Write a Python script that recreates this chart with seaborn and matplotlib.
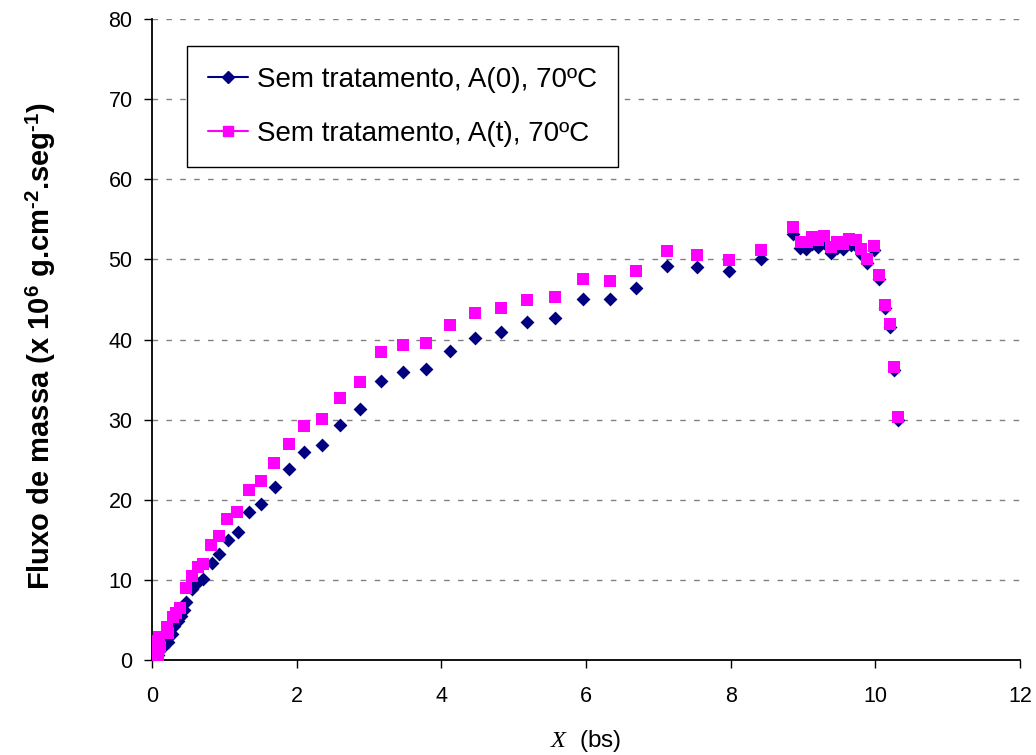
import matplotlib
matplotlib.use("Agg")
import matplotlib.pyplot as plt
import seaborn as sns
import pandas as pd
from matplotlib.lines import Line2D

# Data: Sem tratamento, A(0), 70ºC (navy diamonds)
x_a0 = [0.05, 0.08, 0.10, 0.15, 0.22, 0.27, 0.30, 0.36, 0.40, 0.44, 0.47,
        0.55, 0.62, 0.71, 0.83, 0.93, 1.05, 1.19, 1.34, 1.51, 1.70, 1.89,
        2.10, 2.35, 2.60, 2.88, 3.17, 3.47, 3.79, 4.12, 4.47, 4.83, 5.18,
        5.57, 5.96, 6.33, 6.69, 7.12, 7.53, 7.98, 8.42, 8.86, 8.96, 9.04,
        9.12, 9.21, 9.29, 9.39, 9.47, 9.55, 9.66, 9.73, 9.82, 9.89, 9.98,
        10.05, 10.13, 10.20, 10.26, 10.31]
y_a0 = [0.2, 0.6, 1.2, 1.6, 2.2, 3.3, 4.3, 4.9, 5.5, 6.3, 7.3,
        8.9, 9.6, 10.1, 12.1, 13.2, 15.0, 16.0, 18.5, 19.5, 21.6, 23.8,
        26.0, 26.8, 29.3, 31.3, 34.8, 35.9, 36.3, 38.6, 40.2, 40.9, 42.2,
        42.7, 45.1, 45.1, 46.4, 49.2, 49.0, 48.5, 50.0, 53.2, 51.4, 51.3,
        51.9, 51.5, 52.0, 50.8, 51.4, 51.3, 51.8, 51.7, 50.5, 49.5, 51.2,
        47.6, 43.9, 41.6, 36.2, 30.0]

# Data: Sem tratamento, A(t), 70ºC (magenta squares)
x_at = [0.05, 0.08, 0.07, 0.11, 0.08, 0.10, 0.22, 0.21, 0.29, 0.33, 0.39,
        0.47, 0.55, 0.64, 0.71, 0.82, 0.93, 1.04, 1.18, 1.34, 1.51, 1.69,
        1.89, 2.10, 2.35, 2.60, 2.88, 3.17, 3.47, 3.79, 4.12, 4.47, 4.83,
        5.18, 5.57, 5.96, 6.33, 6.69, 7.12, 7.53, 7.98, 8.42, 8.86, 8.97,
        9.06, 9.12, 9.21, 9.29, 9.39, 9.47, 9.55, 9.64, 9.73, 9.80, 9.89,
        9.98, 10.05, 10.13, 10.20, 10.26, 10.31]
y_at = [0.2, 0.6, 1.2, 1.6, 2.4, 2.9, 3.4, 4.1, 5.4, 5.9, 6.5,
        9.0, 10.5, 11.6, 12.0, 14.4, 15.5, 17.6, 18.5, 21.2, 22.3, 24.6,
        27.0, 29.2, 30.1, 32.7, 34.7, 38.4, 39.3, 39.6, 41.8, 43.3, 43.9,
        44.9, 45.3, 47.6, 47.3, 48.5, 51.0, 50.5, 49.9, 51.2, 54.0, 52.2,
        52.2, 52.8, 52.4, 52.9, 51.5, 52.2, 51.9, 52.5, 52.4, 51.3, 50.0,
        51.7, 48.0, 44.3, 41.9, 36.6, 30.3]

labels = ["Sem tratamento, A(0), 70ºC", "Sem tratamento, A(t), 70ºC"]
x_ticks = [0, 2, 4, 6, 8, 10, 12]
y_ticks = [0, 10, 20, 30, 40, 50, 60, 70, 80]

navy = "#000080"
magenta = "#FF00FF"

sns.set_theme(style="white")
plt.rcParams["font.family"] = ["Liberation Sans", "DejaVu Sans"]
plt.rcParams["mathtext.fontset"] = "custom"
plt.rcParams["mathtext.rm"] = "Liberation Sans:bold"
plt.rcParams["mathtext.bf"] = "Liberation Sans:bold"
plt.rcParams["mathtext.it"] = "Liberation Serif:italic"
plt.rcParams["text.color"] = "black"
plt.rcParams["axes.labelcolor"] = "black"
plt.rcParams["xtick.color"] = "black"
plt.rcParams["ytick.color"] = "black"

df0 = pd.DataFrame({"x": x_a0, "y": y_a0})
dft = pd.DataFrame({"x": x_at, "y": y_at})

fig = plt.figure(figsize=(10.36, 7.55), dpi=100)
ax = fig.add_axes([0.1467, 0.1258, 0.8379, 0.849])

sns.scatterplot(data=df0, x="x", y="y", ax=ax, marker="D", s=50,
                color=navy, edgecolor=navy, linewidth=0, zorder=3)
sns.scatterplot(data=dft, x="x", y="y", ax=ax, marker="s", s=64,
                color=magenta, edgecolor=magenta, linewidth=0, zorder=4)

ax.set_xlim(0, 12)
ax.set_ylim(0, 80)
ax.set_xticks(x_ticks)
ax.set_yticks(y_ticks)
ax.tick_params(axis="both", labelsize=15.5, direction="out", length=6,
               width=1, left=True, bottom=True)
ax.tick_params(axis="x", pad=13)
ax.tick_params(axis="y", pad=8)
ax.yaxis.grid(True, linestyle=(0, (4, 6)), color="#808080", linewidth=1)
ax.xaxis.grid(False)
for s in ["top", "right"]:
    ax.spines[s].set_visible(False)
for s in ["left", "bottom"]:
    ax.spines[s].set_color("black")
    ax.spines[s].set_linewidth(1.3)

ax.set_xlabel(r"$X$  (bs)", fontsize=17.5)
ax.xaxis.set_label_coords(0.5, -0.106)
ax.set_ylabel("Fluxo de massa (x 10$^{6}$ g.cm$^{\u20102}$.seg$^{\u20101}$)",
              fontsize=21, fontweight="bold")
ax.yaxis.set_label_coords(-0.108, 0.49)

handles = [
    Line2D([0], [0], color=navy, marker="D", markersize=6, linewidth=1.5),
    Line2D([0], [0], color=magenta, marker="s", markersize=7.5, linewidth=1.5),
]
leg = ax.legend(handles, labels, loc="upper left", bbox_to_anchor=(0.0403, 0.958),
                fontsize=20, frameon=True, fancybox=False, framealpha=1,
                edgecolor="black", handlelength=1.46, labelspacing=1.0,
                borderpad=0.75, borderaxespad=0, handletextpad=0.3)
leg.get_frame().set_linewidth(1.0)

fig.savefig("out.png", dpi=100, facecolor="white")
